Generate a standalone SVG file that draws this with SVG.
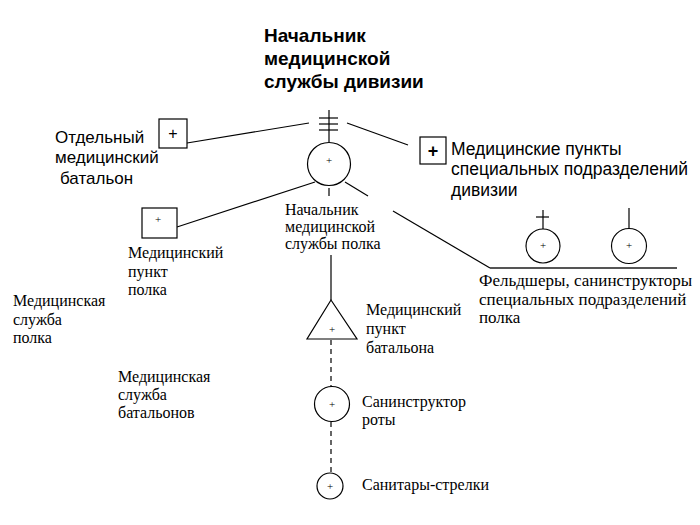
<svg xmlns="http://www.w3.org/2000/svg" width="700" height="525" viewBox="0 0 700 525">
<style>
.ln{stroke:#000;stroke-width:1.2;fill:none}
.sh{stroke:#000;stroke-width:1.2;fill:#fff}
.ds{stroke:#000;stroke-width:1.2;fill:none;stroke-dasharray:5,4}
.sans{font-family:"Liberation Sans",Arial,sans-serif;fill:#000}
.serif{font-family:"Liberation Serif","Times New Roman",serif;fill:#000}
.t{font-size:17px}
.s{font-size:16px}
.p{font-family:"Liberation Serif",serif;font-size:11px;text-anchor:middle;fill:#000}
</style>
<rect width="700" height="525" fill="#fff"/>
<g id="connectors">
<line class="ln" x1="187" y1="143" x2="309" y2="123"/>
<line class="ln" x1="347" y1="123" x2="408" y2="145"/>
<line class="ln" x1="177" y1="227" x2="315" y2="182"/>
<line class="ln" x1="345" y1="182" x2="368" y2="196"/>
<line class="ln" x1="393" y1="211" x2="490" y2="268"/>
<line x1="490" y1="268" x2="677" y2="268" stroke="#555" stroke-width="2"/>
<line class="ln" x1="329" y1="188" x2="329" y2="196"/>
<line class="ln" x1="331" y1="255" x2="331" y2="300"/>
<line class="ds" x1="331" y1="340" x2="331" y2="387"/>
<line class="ds" x1="331" y1="422" x2="331" y2="473"/>
</g>
<g id="title">
<text class="sans" font-size="19" font-weight="bold" x="264" y="42">Начальник</text>
<text class="sans" font-size="19" font-weight="bold" x="264" y="65">медицинской</text>
<text class="sans" font-size="19" font-weight="bold" x="264" y="88">службы дивизии</text>
</g>
<g id="div-chief">
<line class="ln" x1="329" y1="110" x2="329" y2="142"/>
<line class="ln" x1="319" y1="118" x2="338" y2="118"/>
<line class="ln" x1="319" y1="124" x2="338" y2="124"/>
<line class="ln" x1="319" y1="130" x2="338" y2="130"/>
<circle class="sh" cx="329" cy="164" r="21.5"/>
<text class="p" x="329" y="164">+</text>
</g>
<g id="medbat">
<rect class="sh" x="159" y="119" width="28" height="29"/>
<text class="sans" font-size="16" text-anchor="middle" x="173" y="139">+</text>
<text class="sans t" x="55" y="143">Отдельный</text>
<text class="sans t" x="55" y="163">медицинский</text>
<text class="sans t" x="60" y="184">батальон</text>
</g>
<g id="special-points">
<rect class="sh" x="420" y="137" width="26" height="27"/>
<text class="sans" font-size="18" font-weight="bold" text-anchor="middle" x="433" y="157">+</text>
<text class="sans" font-size="17.5" x="451" y="155">Медицинские пункты</text>
<text class="sans" font-size="17.5" x="451" y="175">специальных подразделений</text>
<text class="sans" font-size="17.5" x="451" y="196">дивизии</text>
</g>
<g id="regt-chief">
<text class="serif s" x="285" y="215">Начальник</text>
<text class="serif s" x="285" y="232">медицинской</text>
<text class="serif s" x="285" y="249">службы полка</text>
</g>
<g id="regt-point">
<rect class="sh" x="142" y="208" width="35" height="30"/>
<text class="p" x="158" y="223">+</text>
<text class="serif s" x="128" y="258">Медицинский</text>
<text class="serif s" x="128" y="277">пункт</text>
<text class="serif s" x="128" y="295">полка</text>
</g>
<g id="feldshers">
<line class="ln" x1="543" y1="210" x2="543" y2="229"/>
<line class="ln" x1="536" y1="217" x2="549" y2="217"/>
<circle class="sh" cx="543" cy="246" r="17"/>
<text class="p" x="543" y="249">+</text>
<line class="ln" x1="629" y1="208" x2="629" y2="228"/>
<circle class="sh" cx="629" cy="246" r="17.5"/>
<text class="p" x="629" y="249">+</text>
<text class="serif" font-size="17" x="479" y="286">Фельдшеры, санинструкторы</text>
<text class="serif" font-size="17" x="479" y="305">специальных подразделений</text>
<text class="serif" font-size="17" x="479" y="323">полка</text>
</g>
<g id="regt-service">
<text class="serif s" x="13" y="306">Медицинская</text>
<text class="serif s" x="13" y="325">служба</text>
<text class="serif s" x="13" y="343">полка</text>
</g>
<g id="bat-service">
<text class="serif s" x="118" y="382">Медицинская</text>
<text class="serif s" x="118" y="400">служба</text>
<text class="serif s" x="118" y="418">батальонов</text>
</g>
<g id="bat-point">
<polygon class="sh" points="331,300 307,339 357,339"/>
<text class="p" x="332" y="333">+</text>
<text class="serif s" x="366" y="315">Медицинский</text>
<text class="serif s" x="366" y="334">пункт</text>
<text class="serif s" x="366" y="353">батальона</text>
</g>
<g id="company-instructor">
<circle class="sh" cx="332" cy="404" r="17.5"/>
<text class="p" x="332" y="408">+</text>
<text class="serif s" x="362" y="407">Санинструктор</text>
<text class="serif s" x="362" y="425">роты</text>
</g>
<g id="riflemen">
<circle class="sh" cx="330" cy="486" r="13"/>
<text class="p" x="330" y="490">+</text>
<text class="serif s" x="362" y="490">Санитары-стрелки</text>
</g>
</svg>
